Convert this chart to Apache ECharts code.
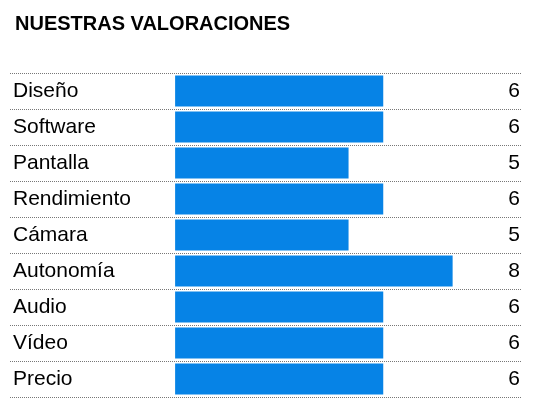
<!DOCTYPE html><html><head><meta charset="utf-8"><script src="https://cdn.jsdelivr.net/npm/echarts@6/dist/echarts.min.js"></script></head><body style="margin:0"><div id="c" style="width:534px;height:404px"></div><script>
const categories=["Diseño","Software","Pantalla","Rendimiento","Cámara","Autonomía","Audio","Vídeo","Precio"];
const values=[6,6,5,6,5,8,6,6,6];
const chart=echarts.init(document.getElementById('c'));
const F='"Liberation Sans", "Open Sans", sans-serif';
chart.setOption({
 animation:false,
 title:{text:'NUESTRAS VALORACIONES',left:10,top:9,textStyle:{fontFamily:F,fontSize:20,fontWeight:'bold',color:'#000'}},
 grid:{left:10,right:12,top:73,height:324},
 xAxis:{type:'value',min:-4.76,max:10,show:false},
 yAxis:[{type:'category',data:categories,inverse:true,axisLine:{show:false},axisTick:{show:false},
   axisLabel:{inside:true,align:'left',margin:3,padding:[4,0,0,0],fontFamily:F,fontSize:21,color:'#000'},
   splitLine:{show:true,lineStyle:{type:'dotted',color:'#777',width:1}}},
  {type:'category',data:values.map(String),inverse:true,position:'right',axisLine:{show:false},axisTick:{show:false},
   axisLabel:{inside:true,margin:2,padding:[4,0,0,0],fontFamily:F,fontSize:21,color:'#000'}}],
 series:[{type:'bar',data:values,barWidth:31,itemStyle:{color:'#0683e6'}}]
});
</script></body></html>
